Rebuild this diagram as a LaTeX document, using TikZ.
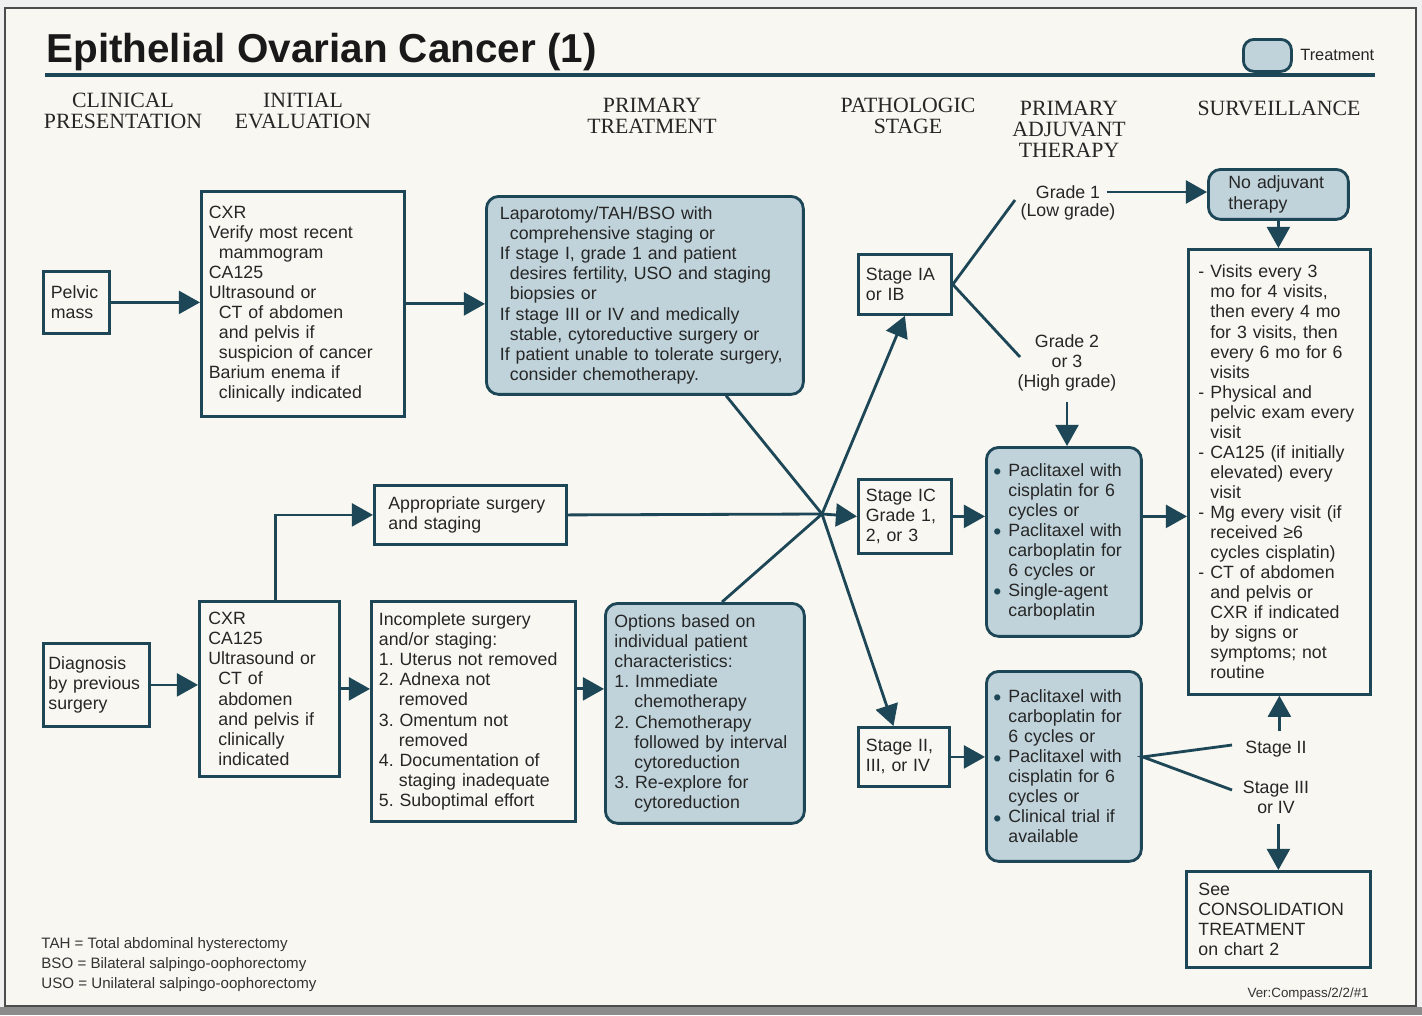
\documentclass[tikz,border=0pt]{standalone}
\usepackage{fontspec}
\setmainfont{Liberation Sans}
\newfontfamily\headfont{Liberation Serif}
\usetikzlibrary{arrows.meta,calc}

\definecolor{ink}{HTML}{1D4656}
\definecolor{txfill}{HTML}{C0D3DA}
\definecolor{paper}{HTML}{F8F7F1}

% indents inside the boxes
\newcommand{\hind}{\hspace*{0.2cm}}
\newcommand{\numind}{\hspace*{0.4cm}}
\newcommand{\hangind}{\hspace*{0.3cm}}
\newcommand{\survind}{\hspace*{0.24cm}}
\newcommand{\dotitem}{\makebox[0.3cm][l]{\raisebox{-0.35ex}{\textcolor{ink}{\fontsize{13}{11}\selectfont\textbullet}}}}
\newcommand{\dashitem}{\makebox[0.24cm][l]{-}}
\hyphenpenalty=10000
\frenchspacing

\begin{document}
\begin{tikzpicture}[x=0.02cm,y=-0.02cm,line width=1.6pt,>={Triangle[length=12pt,width=13pt]},
    box/.style={draw=ink,fill=paper,anchor=north west,align=left,text=black!85,
        font=\fontsize{10.1}{11.4}\selectfont,inner xsep=0.15cm,inner ysep=0pt},
    tx/.style={box,fill=txfill,rounded corners=7pt},
    lbl/.style={font=\fontsize{10.1}{11.4}\selectfont,text=black!85,align=center,inner xsep=3pt,inner ysep=3pt},
    hd/.style={font=\headfont\fontsize{12.4}{11.9}\selectfont,text=black!85,align=center,inner sep=0pt}]

        % paper and frame
        \fill[black!6] (0,0) rectangle (1422,1015);
        \filldraw[fill=paper,draw=black!70,line width=1pt] (5,8) rectangle (1416,1006);
        \fill[black!45] (0,1007) rectangle (1422,1015);

        % title, rule and legend
        \node[anchor=base west,inner sep=0pt,text=black!90,font=\bfseries\fontsize{23}{27}\selectfont] (title) at (45,62) {Epithelial Ovarian Cancer (1)};
        \draw[ink,line width=2pt] (45,75) -- (1375,75);
        \node[tx,minimum width=0.96cm,minimum height=0.64cm,rounded corners=6pt] (legbox) at (1242,38) {};
        \node[anchor=west,inner sep=0pt,text=black!85,font=\fontsize{9.3}{11}\selectfont] (legtext) at (1299,55) {Treatment};

        % column headings
        \foreach \x/\y/\txt in {
            123/111/{CLINICAL\\PRESENTATION},
            303/111/{INITIAL\\EVALUATION},
            652/116/{PRIMARY\\TREATMENT},
            908/116/{PATHOLOGIC\\STAGE},
            1069/129/{PRIMARY\\ADJUVANT\\THERAPY},
            1279/108/{SURVEILLANCE}}
                \node[hd] (hd\x) at (\x,\y) {\txt};

        % upper row
        \node[box,text width=1.02cm,minimum height=1.24cm] (pelvis) at (42,270) {Pelvic\\mass};
        \node[box,text width=3.76cm,minimum height=4.5cm] (eval1) at (200,190)
            {CXR\\Verify most recent\\\hind mammogram\\CA125\\Ultrasound or\\\hind CT of abdomen\\\hind and pelvis if\\\hind suspicion of cancer\\Barium enema if\\\hind clinically indicated};
        \node[tx,inner xsep=0.27cm,text width=5.8cm,minimum height=3.96cm] (primary) at (485,195)
            {Laparotomy/TAH/BSO with\\\hind comprehensive staging or\\If stage I, grade 1 and patient\\\hind desires fertility, USO and staging\\\hind biopsies or\\If stage III or IV and medically\\\hind stable, cytoreductive surgery or\\If patient unable to tolerate surgery,\\\hind consider chemotherapy.};

        % lower row
        \node[box,inner xsep=0.1cm,text width=1.92cm,minimum height=1.66cm] (diag) at (42,642) {Diagnosis\\by previous\\surgery};
        \node[box,inner xsep=0.18cm,text width=2.44cm,minimum height=3.5cm] (eval2) at (198,600)
            {CXR\\CA125\\Ultrasound or\\\hind CT of\\\hind abdomen\\\hind and pelvis if\\\hind clinically\\\hind indicated};
        \node[box,inner xsep=0.28cm,text width=3.28cm,minimum height=1.18cm] (approp) at (373,484) {Appropriate surgery\\and staging};
        \node[box,inner xsep=0.15cm,text width=3.78cm,minimum height=4.4cm] (incompl) at (370,600)
            {Incomplete surgery\\and/or staging:\\1. Uterus not removed\\2. Adnexa not\\\numind removed\\3. Omentum not\\\numind removed\\4. Documentation of\\\numind staging inadequate\\5. Suboptimal effort};
        \node[tx,inner xsep=0.18cm,text width=3.62cm,minimum height=4.4cm] (options) at (604,602)
            {Options based on\\individual patient\\characteristics:\\1. Immediate\\\numind chemotherapy\\2. Chemotherapy\\\numind followed by interval\\\numind cytoreduction\\3. Re-explore for\\\numind cytoreduction};

        % pathologic stage
        \node[box,text width=1.56cm,minimum height=1.2cm] (stageA) at (857,253) {Stage IA\\or IB};
        \node[box,text width=1.56cm,minimum height=1.48cm] (stageC) at (857,478) {Stage IC\\Grade 1,\\2, or 3};
        \node[box,text width=1.52cm,minimum height=1.18cm] (stageD) at (857,726) {Stage II,\\III, or IV};

        % adjuvant therapy
        \node[lbl] (gradeone) at (1068,192) {Grade 1};
        \node[lbl] (lowgrade) at (1068,212) {(Low grade)};
        \node[lbl,inner ysep=5pt] (gradetwo) at (1067,363) {Grade 2\\or 3\\(High grade)};
        \node[tx,inner xsep=0.4cm,text width=2.0cm,minimum height=1.0cm] (noadj) at (1207,168) {No adjuvant\\therapy};
        \node[tx,inner xsep=0.14cm,text width=2.82cm,minimum height=3.78cm] (tx1) at (985,446)
            {\dotitem Paclitaxel with\\\hangind cisplatin for 6\\\hangind cycles or\\\dotitem Paclitaxel with\\\hangind carboplatin for\\\hangind 6 cycles or\\\dotitem Single-agent\\\hangind carboplatin};
        \node[tx,inner xsep=0.14cm,text width=2.82cm,minimum height=3.8cm] (tx2) at (985,670)
            {\dotitem Paclitaxel with\\\hangind carboplatin for\\\hangind 6 cycles or\\\dotitem Paclitaxel with\\\hangind cisplatin for 6\\\hangind cycles or\\\dotitem Clinical trial if\\\hangind available};

        % surveillance
        \node[box,inner xsep=0.2cm,text width=3.24cm,minimum height=8.9cm] (surv) at (1187,248)
            {\dashitem Visits every 3\\\survind mo for 4 visits,\\\survind then every 4 mo\\\survind for 3 visits, then\\\survind every 6 mo for 6\\\survind visits\\\dashitem Physical and\\\survind pelvic exam every\\\survind visit\\\dashitem CA125 (if initially\\\survind elevated) every\\\survind visit\\\dashitem Mg every visit (if\\\survind received ≥6\\\survind cycles cisplatin)\\\dashitem CT of abdomen\\\survind and pelvis or\\\survind CXR if indicated\\\survind by signs or\\\survind symptoms; not\\\survind routine};
        \node[lbl,inner ysep=5pt] (stII) at (1276,749) {Stage II};
        \node[lbl,inner ysep=5pt] (stIII) at (1276,797) {Stage III\\or IV};
        \node[box,inner xsep=0.24cm,text width=3.2cm,minimum height=1.92cm] (see) at (1185,870)
            {See\\CONSOLIDATION\\TREATMENT\\on chart 2};

        % straight arrows between neighbours
        \foreach \a/\b in {pelvis/eval1, eval1/primary, diag/eval2, eval2/incompl, stageC/tx1, stageD/tx2}
                \draw[ink,->] (\a.east) -- (\a.east -| \b.west);
        \draw[ink,->] (incompl.east |- eval2.east) -- (eval2.east -| options.west);
        \draw[ink,->] (tx1.east |- stageC.east) -- (stageC.east -| surv.west);
        \draw[ink,->] ([xshift=0.12cm]eval2.north) |- (approp.west);

        % the crossing of the stage lines
        \coordinate (hub) at (822,514);
        \draw[ink] (primary) -- (hub);
        \draw[ink] ($(options.north west)+(118,0)$) -- (hub);
        \draw[ink] (approp.east) -- (hub);
        \draw[ink,->] (hub) -- (stageA.south);
        \draw[ink,->] (hub) -- (stageC.west);
        \draw[ink,->] (hub) -- (stageD);

        % grades and stages into adjuvant therapy
        \coordinate (gone) at (1015,200);
        \coordinate (gtwo) at (1020,357);
        \draw[ink] (gone) -- (stageA.east) -- (gtwo);
        \draw[ink,->] (gradeone.east) -- (gradeone.east -| noadj.west);
        \draw[ink,->] (gradetwo.south) -- (gradetwo.south |- tx1.north);
        \draw[ink,->] (noadj.south) -- (noadj.south |- surv.north);

        \coordinate (fork) at (stageD.east -| tx2.east);
        \coordinate (cII) at (1232,745);
        \coordinate (cIII) at (1232,790);
        \draw[ink] (cII) -- (fork) -- (cIII);
        \draw[ink,->] (surv.south |- stII.north) -- (surv.south);
        \draw[ink,->] (see.north |- stIII.south) -- (see.north);

        % abbreviations and version
        \node[anchor=north west,align=left,inner sep=0pt,text=black!80,font=\fontsize{8.6}{11.3}\selectfont] (abbr) at (40,936)
            {TAH = Total abdominal hysterectomy\\BSO = Bilateral salpingo-oophorectomy\\USO = Unilateral salpingo-oophorectomy};
        \node[anchor=base east,inner sep=0pt,text=black!80,font=\fontsize{7.6}{9}\selectfont] (ver) at (1370,997) {Ver:Compass/2/2/\#1};
\end{tikzpicture}
\end{document}
